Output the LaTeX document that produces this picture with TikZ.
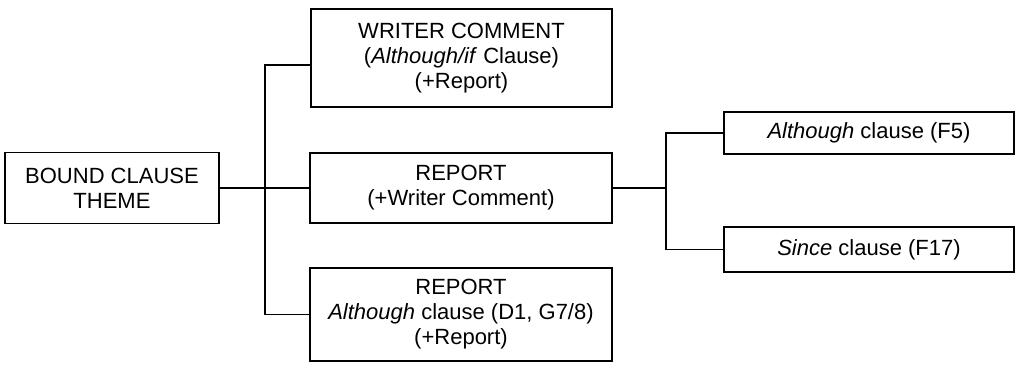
\documentclass[tikz,border=0pt]{standalone}
\usepackage{fontspec}
\setmainfont{Liberation Sans}
\begin{document}
\begin{tikzpicture}[
  x=1pt, y=-1pt,
  b/.style={draw, line width=1.6pt, align=center, inner sep=0pt,
    font=\fontsize{22}{25}\selectfont},
  e/.style={line width=1.3pt}
]
\useasboundingbox (0,0) rectangle (1019,364);
\node[b, minimum width=214pt, minimum height=71pt] (theme) at (112,188) {BOUND CLAUSE\\THEME};
\node[b, minimum width=301pt, minimum height=98pt] (wc) at (461.5,58) {WRITER COMMENT\\(\textit{Although/if} Clause)\\(+Report)};
\node[b, minimum width=302pt, minimum height=70pt] (rep) at (461,188) {REPORT\\(+Writer Comment)};
\node[b, minimum width=302pt, minimum height=93pt] (repa) at (461,314.5) {REPORT\\\textit{Although} clause (D1, G7/8)\\(+Report)};
\node[b, minimum width=290pt, minimum height=42pt] (alth) at (869,133) {\textit{Although} clause (F5)};
\node[b, minimum width=290pt, minimum height=45pt] (since) at (869,249.5) {\textit{Since} clause (F17)};
\coordinate (ls) at (265,0);
\coordinate (rs) at (666,0);
\draw[e] (theme.east) -- (rep.west);
\draw[e] ([yshift=-7pt]wc.west) -| (ls |- repa.west) -- (repa.west);
\draw[e] (rep.east) -- (rs |- rep.east);
\draw[e] (alth.west) -| (rs |- since.west) -- (since.west);
\end{tikzpicture}
\end{document}
